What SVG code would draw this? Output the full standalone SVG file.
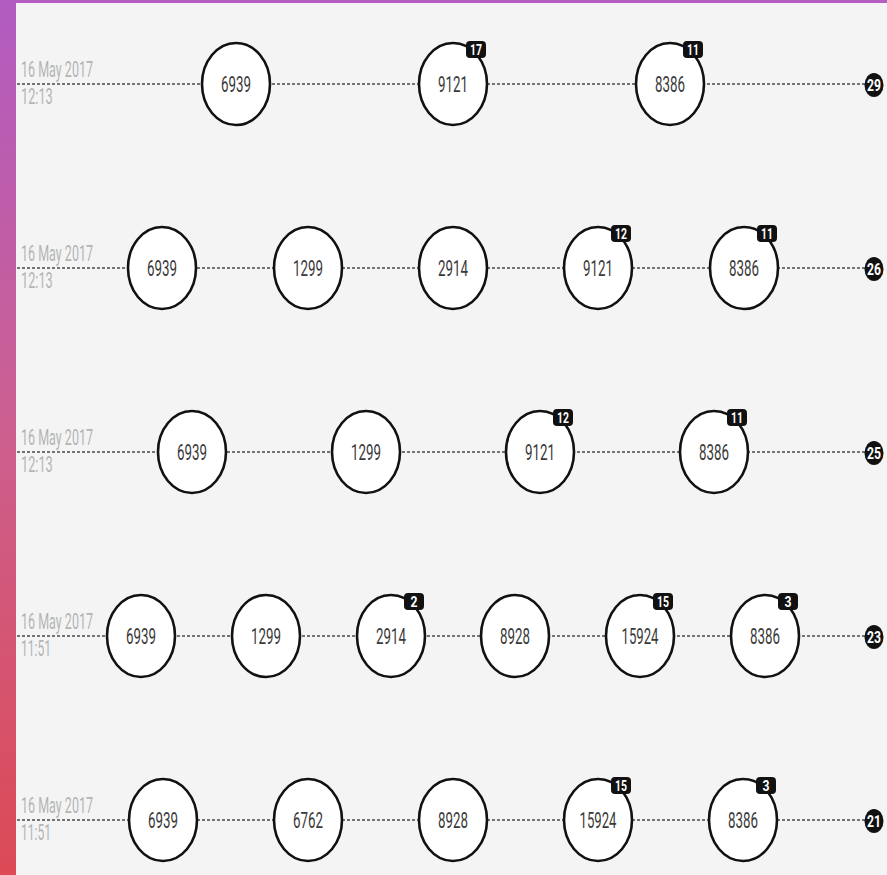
<svg xmlns="http://www.w3.org/2000/svg" width="887" height="875" viewBox="0 0 887 875">
<defs>
<linearGradient id="bar" x1="0" y1="0" x2="0" y2="1">
<stop offset="0" stop-color="#b25cc2"/>
<stop offset="0.5" stop-color="#cd5f8e"/>
<stop offset="1" stop-color="#dc4a55"/>
</linearGradient>
</defs>
<style>
.line{stroke:#4a4a4a;stroke-width:1.4;stroke-dasharray:3 2;fill:none}
.node{fill:#fff;stroke:#111;stroke-width:2.6}
.num{font-family:"Roboto","Liberation Sans",sans-serif;font-size:22px;fill:#3a3a3a;text-anchor:middle}
.badge{fill:#111}
.btxt{font-family:"Roboto","Liberation Sans",sans-serif;font-size:15px;font-weight:bold;fill:#fff;text-anchor:middle}
.end{fill:#111}
.etxt{font-family:"Roboto","Liberation Sans",sans-serif;font-size:17px;font-weight:bold;fill:#fff;text-anchor:middle}
.date{font-family:"Roboto","Liberation Sans",sans-serif;font-size:22px;fill:#b4b4b4}
</style>
<rect x="0" y="0" width="887" height="875" fill="#f4f4f4"/>
<rect x="0" y="0" width="887" height="3" fill="#b45ec3"/>
<rect x="0" y="0" width="16" height="875" fill="url(#bar)"/>

<g id="connectors">
<line class="line" x1="17" y1="84" x2="866" y2="84"/>
<line class="line" x1="17" y1="268" x2="866" y2="268"/>
<line class="line" x1="17" y1="452" x2="866" y2="452"/>
<line class="line" x1="17" y1="636" x2="866" y2="636"/>
<line class="line" x1="17" y1="820" x2="866" y2="820"/>
</g>

<g id="labels">
<text class="date" transform="translate(21,77) scale(0.6,1)" textLength="120" lengthAdjust="spacingAndGlyphs">16 May 2017</text>
<text class="date" transform="translate(21,104) scale(0.6,1)" textLength="53" lengthAdjust="spacingAndGlyphs">12:13</text>
<text class="date" transform="translate(21,261) scale(0.6,1)" textLength="120" lengthAdjust="spacingAndGlyphs">16 May 2017</text>
<text class="date" transform="translate(21,288) scale(0.6,1)" textLength="53" lengthAdjust="spacingAndGlyphs">12:13</text>
<text class="date" transform="translate(21,445) scale(0.6,1)" textLength="120" lengthAdjust="spacingAndGlyphs">16 May 2017</text>
<text class="date" transform="translate(21,472) scale(0.6,1)" textLength="53" lengthAdjust="spacingAndGlyphs">12:13</text>
<text class="date" transform="translate(21,629) scale(0.6,1)" textLength="120" lengthAdjust="spacingAndGlyphs">16 May 2017</text>
<text class="date" transform="translate(21,656) scale(0.6,1)" textLength="50" lengthAdjust="spacingAndGlyphs">11:51</text>
<text class="date" transform="translate(21,813) scale(0.6,1)" textLength="120" lengthAdjust="spacingAndGlyphs">16 May 2017</text>
<text class="date" transform="translate(21,840) scale(0.6,1)" textLength="50" lengthAdjust="spacingAndGlyphs">11:51</text>
</g>

<!-- Row 1 -->
<g id="r1n1"><ellipse class="node" cx="236" cy="84" rx="34" ry="41"/><text class="num" x="236" y="92" textLength="30" lengthAdjust="spacingAndGlyphs">6939</text></g>
<g id="r1n2"><ellipse class="node" cx="453" cy="84" rx="34" ry="41"/><text class="num" x="453" y="92" textLength="30" lengthAdjust="spacingAndGlyphs">9121</text><rect class="badge" x="466" y="41" width="20" height="17" rx="4"/><text class="btxt" x="476" y="55" textLength="12" lengthAdjust="spacingAndGlyphs">17</text></g>
<g id="r1n3"><ellipse class="node" cx="670" cy="84" rx="34" ry="41"/><text class="num" x="670" y="92" textLength="30" lengthAdjust="spacingAndGlyphs">8386</text><rect class="badge" x="683" y="41" width="20" height="17" rx="4"/><text class="btxt" x="693" y="55" textLength="12" lengthAdjust="spacingAndGlyphs">11</text></g>
<g id="r1end"><ellipse class="end" cx="874" cy="85" rx="9.5" ry="12"/><text class="etxt" x="874" y="91" textLength="14" lengthAdjust="spacingAndGlyphs">29</text></g>

<!-- Row 2 -->
<g id="r2n1"><ellipse class="node" cx="162" cy="268" rx="34" ry="41"/><text class="num" x="162" y="276" textLength="30" lengthAdjust="spacingAndGlyphs">6939</text></g>
<g id="r2n2"><ellipse class="node" cx="308" cy="268" rx="34" ry="41"/><text class="num" x="308" y="276" textLength="30" lengthAdjust="spacingAndGlyphs">1299</text></g>
<g id="r2n3"><ellipse class="node" cx="453" cy="268" rx="34" ry="41"/><text class="num" x="453" y="276" textLength="30" lengthAdjust="spacingAndGlyphs">2914</text></g>
<g id="r2n4"><ellipse class="node" cx="598" cy="268" rx="34" ry="41"/><text class="num" x="598" y="276" textLength="30" lengthAdjust="spacingAndGlyphs">9121</text><rect class="badge" x="611" y="225" width="20" height="17" rx="4"/><text class="btxt" x="621" y="239" textLength="12" lengthAdjust="spacingAndGlyphs">12</text></g>
<g id="r2n5"><ellipse class="node" cx="744" cy="268" rx="34" ry="41"/><text class="num" x="744" y="276" textLength="30" lengthAdjust="spacingAndGlyphs">8386</text><rect class="badge" x="757" y="225" width="20" height="17" rx="4"/><text class="btxt" x="767" y="239" textLength="12" lengthAdjust="spacingAndGlyphs">11</text></g>
<g id="r2end"><ellipse class="end" cx="874" cy="269" rx="9.5" ry="12"/><text class="etxt" x="874" y="275" textLength="14" lengthAdjust="spacingAndGlyphs">26</text></g>

<!-- Row 3 -->
<g id="r3n1"><ellipse class="node" cx="192" cy="452" rx="34" ry="41"/><text class="num" x="192" y="460" textLength="30" lengthAdjust="spacingAndGlyphs">6939</text></g>
<g id="r3n2"><ellipse class="node" cx="366" cy="452" rx="34" ry="41"/><text class="num" x="366" y="460" textLength="30" lengthAdjust="spacingAndGlyphs">1299</text></g>
<g id="r3n3"><ellipse class="node" cx="540" cy="452" rx="34" ry="41"/><text class="num" x="540" y="460" textLength="30" lengthAdjust="spacingAndGlyphs">9121</text><rect class="badge" x="553" y="409" width="20" height="17" rx="4"/><text class="btxt" x="563" y="423" textLength="12" lengthAdjust="spacingAndGlyphs">12</text></g>
<g id="r3n4"><ellipse class="node" cx="714" cy="452" rx="34" ry="41"/><text class="num" x="714" y="460" textLength="30" lengthAdjust="spacingAndGlyphs">8386</text><rect class="badge" x="727" y="409" width="20" height="17" rx="4"/><text class="btxt" x="737" y="423" textLength="12" lengthAdjust="spacingAndGlyphs">11</text></g>
<g id="r3end"><ellipse class="end" cx="874" cy="453" rx="9.5" ry="12"/><text class="etxt" x="874" y="459" textLength="14" lengthAdjust="spacingAndGlyphs">25</text></g>

<!-- Row 4 -->
<g id="r4n1"><ellipse class="node" cx="141" cy="636" rx="34" ry="41"/><text class="num" x="141" y="644" textLength="30" lengthAdjust="spacingAndGlyphs">6939</text></g>
<g id="r4n2"><ellipse class="node" cx="266" cy="636" rx="34" ry="41"/><text class="num" x="266" y="644" textLength="30" lengthAdjust="spacingAndGlyphs">1299</text></g>
<g id="r4n3"><ellipse class="node" cx="391" cy="636" rx="34" ry="41"/><text class="num" x="391" y="644" textLength="30" lengthAdjust="spacingAndGlyphs">2914</text><rect class="badge" x="404" y="593" width="20" height="17" rx="4"/><text class="btxt" x="414" y="607" textLength="7" lengthAdjust="spacingAndGlyphs">2</text></g>
<g id="r4n4"><ellipse class="node" cx="515" cy="636" rx="34" ry="41"/><text class="num" x="515" y="644" textLength="30" lengthAdjust="spacingAndGlyphs">8928</text></g>
<g id="r4n5"><ellipse class="node" cx="640" cy="636" rx="34" ry="41"/><text class="num" x="640" y="644" textLength="37" lengthAdjust="spacingAndGlyphs">15924</text><rect class="badge" x="653" y="593" width="20" height="17" rx="4"/><text class="btxt" x="663" y="607" textLength="12" lengthAdjust="spacingAndGlyphs">15</text></g>
<g id="r4n6"><ellipse class="node" cx="765" cy="636" rx="34" ry="41"/><text class="num" x="765" y="644" textLength="30" lengthAdjust="spacingAndGlyphs">8386</text><rect class="badge" x="778" y="593" width="20" height="17" rx="4"/><text class="btxt" x="788" y="607" textLength="7" lengthAdjust="spacingAndGlyphs">3</text></g>
<g id="r4end"><ellipse class="end" cx="874" cy="637" rx="9.5" ry="12"/><text class="etxt" x="874" y="643" textLength="14" lengthAdjust="spacingAndGlyphs">23</text></g>

<!-- Row 5 -->
<g id="r5n1"><ellipse class="node" cx="163" cy="820" rx="34" ry="41"/><text class="num" x="163" y="828" textLength="30" lengthAdjust="spacingAndGlyphs">6939</text></g>
<g id="r5n2"><ellipse class="node" cx="308" cy="820" rx="34" ry="41"/><text class="num" x="308" y="828" textLength="30" lengthAdjust="spacingAndGlyphs">6762</text></g>
<g id="r5n3"><ellipse class="node" cx="453" cy="820" rx="34" ry="41"/><text class="num" x="453" y="828" textLength="30" lengthAdjust="spacingAndGlyphs">8928</text></g>
<g id="r5n4"><ellipse class="node" cx="598" cy="820" rx="34" ry="41"/><text class="num" x="598" y="828" textLength="37" lengthAdjust="spacingAndGlyphs">15924</text><rect class="badge" x="611" y="777" width="20" height="17" rx="4"/><text class="btxt" x="621" y="791" textLength="12" lengthAdjust="spacingAndGlyphs">15</text></g>
<g id="r5n5"><ellipse class="node" cx="743" cy="820" rx="34" ry="41"/><text class="num" x="743" y="828" textLength="30" lengthAdjust="spacingAndGlyphs">8386</text><rect class="badge" x="756" y="777" width="20" height="17" rx="4"/><text class="btxt" x="766" y="791" textLength="7" lengthAdjust="spacingAndGlyphs">3</text></g>
<g id="r5end"><ellipse class="end" cx="874" cy="821" rx="9.5" ry="12"/><text class="etxt" x="874" y="827" textLength="14" lengthAdjust="spacingAndGlyphs">21</text></g>
</svg>
